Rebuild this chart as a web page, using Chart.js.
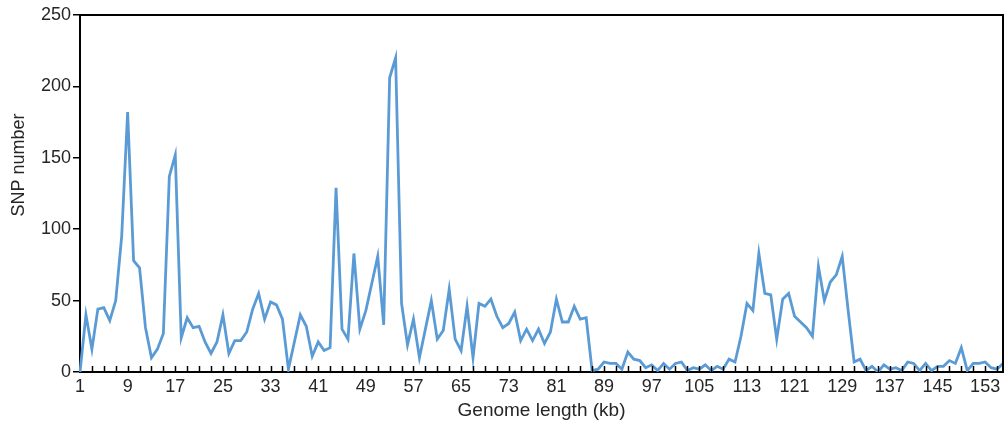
<!DOCTYPE html>
<html>
<head>
<meta charset="utf-8">
<script src="https://cdn.jsdelivr.net/npm/chart.js@4"></script>
<style>
html,body{margin:0;padding:0;background:#fff;}
#wrap{width:1007px;height:424px;position:relative;}
</style>
</head>
<body>
<div id="wrap"><canvas id="c"></canvas></div>
<script>
// Genome position categories (kb), 1..156
const categories = Array.from({length: 156}, (_, i) => String(i + 1));
// Tick labels shown on x axis
const xTickLabels = ['1','9','17','25','33','41','49','57','65','73','81','89','97','105','113','121','129','137','145','153'];
// SNP counts per kb window
const snpCounts = [
  0, 40, 16, 44, 45, 36, 50, 95, 182, 78,
  73, 31, 10, 16, 27, 137, 152, 24, 38, 31,
  32, 21, 13, 21, 40, 13, 22, 22, 28, 44,
  55, 37, 49, 47, 37, 2, 21, 40, 32, 11,
  21, 15, 17, 129, 30, 23, 83, 30, 43, 62,
  81, 33, 206, 220, 48, 19, 37, 10, 30, 50,
  23, 29, 58, 23, 15, 46, 10, 48, 46, 51,
  39, 31, 34, 42, 22, 30, 22, 30, 20, 28,
  51, 35, 35, 46, 37, 38, 1, 2, 7, 6,
  6, 2, 14, 9, 8, 3, 5, 1, 6, 2,
  6, 7, 1, 3, 2, 5, 1, 4, 2, 9,
  7, 25, 48, 43, 83, 55, 54, 23, 51, 55,
  39, 35, 31, 25, 74, 50, 63, 68, 81, 43,
  7, 9, 1, 4, 0, 5, 2, 3, 1, 7,
  6, 1, 6, 1, 4, 4, 8, 6, 17, 1,
  6, 6, 7, 3, 2, 6
];
// Y axis ticks
const yTicks = [0, 50, 100, 150, 200, 250];
const yTitle = 'SNP number';
const xTitle = 'Genome length (kb)';

const FONT = "'Liberation Sans', Arial, sans-serif";
const TEXT = '#262626';

const framePlugin = {
  id: 'frame',
  afterDraw(chart) {
    const {ctx, chartArea: {left, right, top, bottom}, scales: {x}} = chart;
    ctx.save();
    ctx.strokeStyle = '#000';
    ctx.lineWidth = 2;
    ctx.beginPath();
    ctx.moveTo(left - 1, top);
    ctx.lineTo(right, top);
    ctx.lineTo(right, bottom);
    ctx.stroke();
    ctx.lineWidth = 1.5;
    ctx.beginPath();
    for (let i = 2; i < categories.length; i += 2) {
      const px = Math.round(x.getPixelForValue(i)) + 0.5;
      ctx.moveTo(px, bottom);
      ctx.lineTo(px, bottom - 6);
    }
    ctx.stroke();
    // y axis title
    ctx.fillStyle = TEXT;
    ctx.font = '18px ' + FONT;
    ctx.textAlign = 'center';
    ctx.textBaseline = 'middle';
    ctx.translate(19, 165);
    ctx.rotate(-Math.PI / 2);
    ctx.fillText(yTitle, 0, 0);
    ctx.restore();
  }
};

new Chart(document.getElementById('c'), {
  type: 'line',
  data: {
    labels: categories,
    datasets: [{
      data: snpCounts,
      borderColor: '#5B9BD5',
      borderWidth: 2.8,
      pointRadius: 0,
      tension: 0,
      fill: false
    }]
  },
  options: {
    responsive: true,
    maintainAspectRatio: false,
    animation: false,
    layout: {padding: {left: 0, right: 2, top: 15, bottom: 0}},
    plugins: {legend: {display: false}, tooltip: {enabled: false}},
    scales: {
      x: {
        type: 'category',
        offset: false,
        grid: {display: true, drawOnChartArea: false, drawTicks: false},
        border: {display: true, color: '#000', width: 2},
        ticks: {
          autoSkip: false,
          maxRotation: 0,
          padding: 4,
          color: TEXT,
          font: {family: FONT, size: 18},
          callback: function(val, index) {
            const lab = categories[index];
            return xTickLabels.includes(lab) ? lab : '';
          }
        },
        title: {
          display: true,
          text: xTitle,
          color: TEXT,
          font: {family: FONT, size: 19},
          padding: {top: 0, bottom: 2}
        },
        afterFit(scale) { scale.height = 52; }
      },
      y: {
        min: 0,
        max: 250,
        afterBuildTicks(scale) { scale.ticks = yTicks.map(v => ({value: v})); },
        grid: {display: true, drawOnChartArea: false, drawTicks: true, tickLength: 7, color: '#000', lineWidth: 1.5},
        border: {display: true, color: '#000', width: 2},
        ticks: {
          padding: 2,
          color: TEXT,
          font: {family: FONT, size: 18}
        },
        afterFit(scale) { scale.width = 80; }
      }
    }
  },
  plugins: [framePlugin]
});
</script>
</body>
</html>
